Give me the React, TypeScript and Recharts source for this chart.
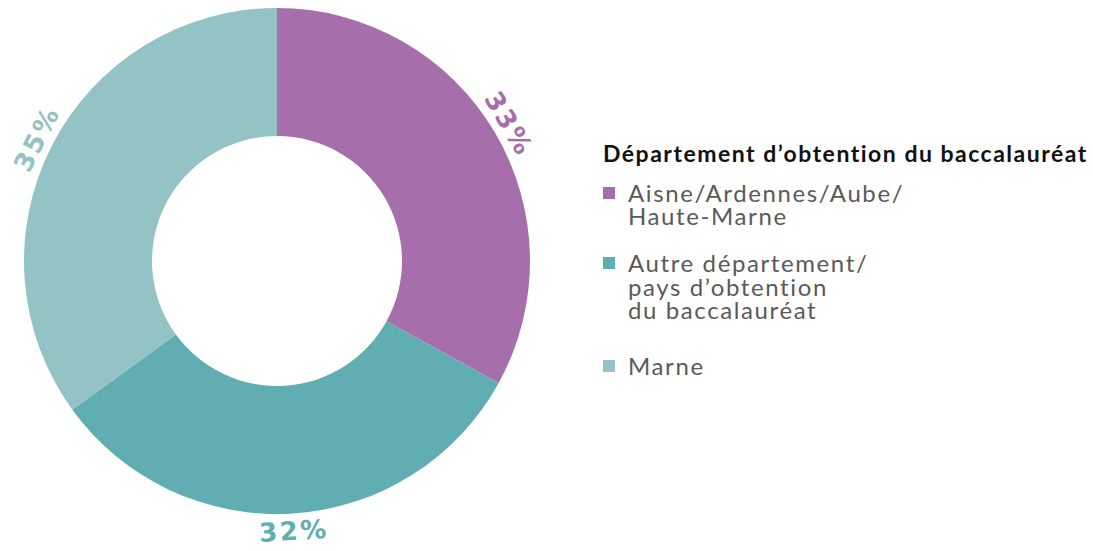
import React from 'react';
import { PieChart, Pie, Cell, Legend } from 'recharts';

const categories = [
  'Aisne/Ardennes/Aube/Haute-Marne',
  'Autre département/pays d’obtention du baccalauréat',
  'Marne',
];
const shares = [33, 32, 35];
const colors = ['#A66EAA', '#60AEB1', '#94C3C6'];
const legendTitle = 'Département d’obtention du baccalauréat';
const legendLines = [
  ['Aisne/Ardennes/Aube/', 'Haute-Marne'],
  ['Autre département/', 'pays d’obtention', 'du baccalauréat'],
  ['Marne'],
];

const data = categories.map((name, i) => ({ name, value: shares[i] }));

const RAD = Math.PI / 180;

const renderLabel = (props: any) => {
  const { cx, cy, midAngle, outerRadius, index, value } = props;
  const r = outerRadius + 17;
  const x = cx + r * Math.cos(-midAngle * RAD);
  const y = cy + r * Math.sin(-midAngle * RAD);
  const theta = (((90 - midAngle) % 360) + 360) % 360;
  let rot = theta;
  if (theta > 90 && theta < 270) rot = theta - 180;
  else if (theta >= 270) rot = theta - 360;
  return (
    <text
      x={x}
      y={y}
      dy="0.36em"
      transform={`rotate(${rot} ${x} ${y})`}
      textAnchor="middle"
      fill={colors[index]}
      fontFamily="'DejaVu Sans', sans-serif"
      fontWeight={700}
      fontSize={26}
      letterSpacing={2.5}
    >
      {`${value}%`}
    </text>
  );
};

const itemMargins = [15.5, 23.5, 32.5];

const renderLegend = (props: any) => {
  const payload = props.payload || [];
  return (
    <div style={{ fontFamily: 'Lato, sans-serif' }}>
      <div
        style={{
          fontSize: 23,
          fontWeight: 700,
          lineHeight: '24px',
          color: '#111111',
          letterSpacing: 1.5,
          whiteSpace: 'nowrap',
        }}
      >
        {legendTitle}
      </div>
      {legendLines.map((lines, i) => (
        <div
          key={i}
          style={{ display: 'flex', alignItems: 'flex-start', marginTop: itemMargins[i] }}
        >
          <div
            style={{
              width: 12,
              height: 12,
              marginTop: 6,
              marginRight: 13,
              background: (payload[i] && payload[i].color) || colors[i],
              flex: 'none',
            }}
          />
          <div
            style={{
              fontSize: 24,
              lineHeight: '23.5px',
              color: '#5a5a5a',
              letterSpacing: 1.6,
              whiteSpace: 'nowrap',
            }}
          >
            {lines.map((l, j) => (
              <div key={j}>{l}</div>
            ))}
          </div>
        </div>
      ))}
    </div>
  );
};

export default function App() {
  return (
    <div style={{ position: 'absolute', left: 0, top: 0, width: 1093, height: 551, background: '#fff' }}>
      <PieChart width={1093} height={551} margin={{ top: 0, right: 0, bottom: 0, left: 0 }}>
        <Pie
          data={data}
          dataKey="value"
          nameKey="name"
          cx={277}
          cy={261}
          innerRadius={125}
          outerRadius={253}
          startAngle={90}
          endAngle={-270}
          stroke="none"
          label={renderLabel}
          labelLine={false}
          isAnimationActive={false}
        >
          {data.map((d, i) => (
            <Cell key={d.name} fill={colors[i]} />
          ))}
        </Pie>
        <Legend
          layout="vertical"
          align="right"
          verticalAlign="top"
          content={renderLegend}
          wrapperStyle={{ position: 'absolute', left: 603, top: 141, width: 490 }}
        />
      </PieChart>
    </div>
  );
}
